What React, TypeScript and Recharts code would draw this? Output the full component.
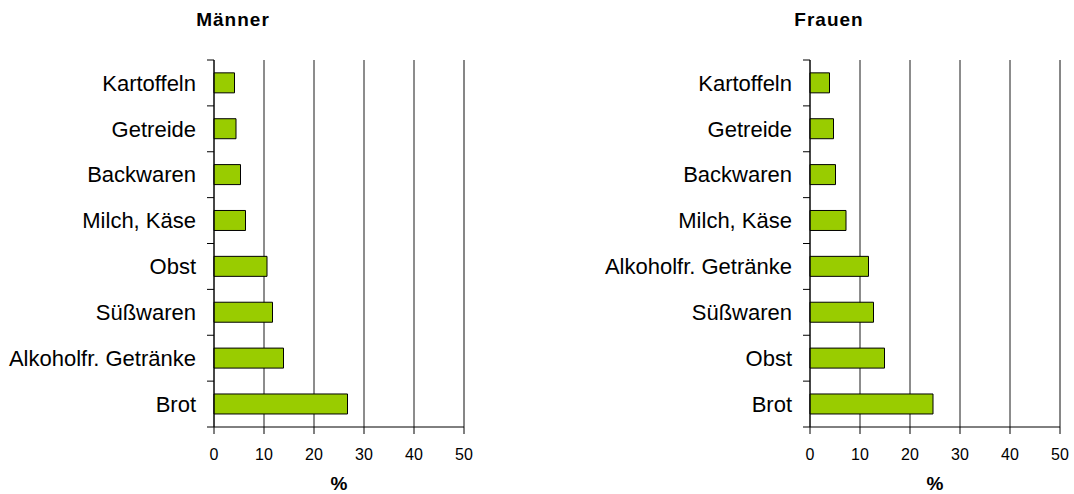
import React from 'react';
import { BarChart, Bar, XAxis, YAxis, CartesianGrid, ReferenceLine } from 'recharts';

const menCategories = ['Kartoffeln', 'Getreide', 'Backwaren', 'Milch, Käse', 'Obst', 'Süßwaren', 'Alkoholfr. Getränke', 'Brot'];
const menValues = [4.1, 4.4, 5.3, 6.3, 10.6, 11.7, 13.9, 26.7];
const womenCategories = ['Kartoffeln', 'Getreide', 'Backwaren', 'Milch, Käse', 'Alkoholfr. Getränke', 'Süßwaren', 'Obst', 'Brot'];
const womenValues = [3.9, 4.7, 5.1, 7.2, 11.7, 12.7, 14.9, 24.6];
const xTicks = [0, 10, 20, 30, 40, 50];
const titles = ['Männer', 'Frauen'];
const unitLabel = '%';

const FONT = '"Liberation Sans", Arial, sans-serif';
const TICK_SIZE = 6;
const TICK_MARGIN = 12;
const BOUNDARY_TICK = 7;

type PanelProps = {
  categories: string[];
  values: number[];
  title: string;
  left: number;
  catWidth: number;
  rightMargin: number;
};

const W = 537;
const H = 494;

function CategoryTick(props: any) {
  const { x, y, payload, index, visibleTicksCount } = props;
  const half = payload && payload.offset ? payload.offset : 0;
  const axisX = x + TICK_SIZE + TICK_MARGIN;
  const isLast = index === (visibleTicksCount ?? 0) - 1;
  return (
    <g>
      <line x1={axisX - BOUNDARY_TICK} x2={axisX} y1={y - half} y2={y - half} stroke="#000" />
      {isLast && <line x1={axisX - BOUNDARY_TICK} x2={axisX} y1={y + half} y2={y + half} stroke="#000" />}
      <text x={x} y={y} dy="0.355em" textAnchor="end" fill="#000" fontSize={22} fontFamily={FONT}>
        {payload.value}
      </text>
    </g>
  );
}

function Panel({ categories, values, title, left, catWidth, rightMargin }: PanelProps) {
  const data = categories.map((c, i) => ({ name: c, value: values[i] }));
  const plotLeft = catWidth;
  const plotRight = W - rightMargin;
  const center = (plotLeft + plotRight) / 2;
  return (
    <div style={{ position: 'absolute', left, top: 0, width: W, height: H }}>
      <BarChart
        width={W}
        height={H}
        data={data}
        layout="vertical"
        margin={{ top: 60, right: rightMargin, bottom: 37, left: 0 }}
        barCategoryGap="28%"
      >
        <CartesianGrid yAxisId="cat" vertical horizontal={false} stroke="#1a1a1a" />
        <XAxis
          type="number"
          domain={[0, 50]}
          ticks={xTicks}
          height={30}
          tickSize={7}
          tickMargin={15}
          axisLine={{ stroke: '#000' }}
          tickLine={{ stroke: '#000' }}
          tick={{ fill: '#000', fontSize: 16, fontFamily: FONT }}
          interval={0}
        />
        <XAxis
          xAxisId="top"
          orientation="top"
          type="number"
          domain={[0, 50]}
          height={0}
          tick={false}
          tickLine={false}
          axisLine={{ stroke: '#808080' }}
        />
        <YAxis
          yAxisId="cat"
          type="category"
          dataKey="name"
          width={catWidth}
          axisLine={{ stroke: '#000' }}
          tickLine={false}
          tickSize={TICK_SIZE}
          tickMargin={TICK_MARGIN}
          interval={0}
          tick={<CategoryTick />}
        />
        <ReferenceLine yAxisId="cat" x={50} stroke="#808080" />
        <Bar
          yAxisId="cat"
          dataKey="value"
          fill="#99cc00"
          stroke="#000"
          strokeWidth={1}
          isAnimationActive={false}
        />
      </BarChart>
      <div
        style={{
          position: 'absolute',
          left: plotLeft + 19 - 100,
          top: 9,
          width: 200,
          textAlign: 'center',
          fontFamily: FONT,
          fontWeight: 'bold',
          fontSize: 19,
          letterSpacing: 1,
          color: '#000',
        }}
      >
        {title}
      </div>
      <div
        style={{
          position: 'absolute',
          left: center - 50,
          top: 473,
          width: 100,
          textAlign: 'center',
          fontFamily: FONT,
          fontWeight: 'bold',
          fontSize: 19,
          color: '#000',
        }}
      >
        {unitLabel}
      </div>
    </div>
  );
}

export default function App() {
  return (
    <div style={{ position: 'absolute', left: 0, top: 0, width: 1074, height: 494, background: '#fff' }}>
      <Panel categories={menCategories} values={menValues} title={titles[0]} left={0} catWidth={214} rightMargin={73} />
      <Panel categories={womenCategories} values={womenValues} title={titles[1]} left={537} catWidth={273} rightMargin={14} />
    </div>
  );
}
